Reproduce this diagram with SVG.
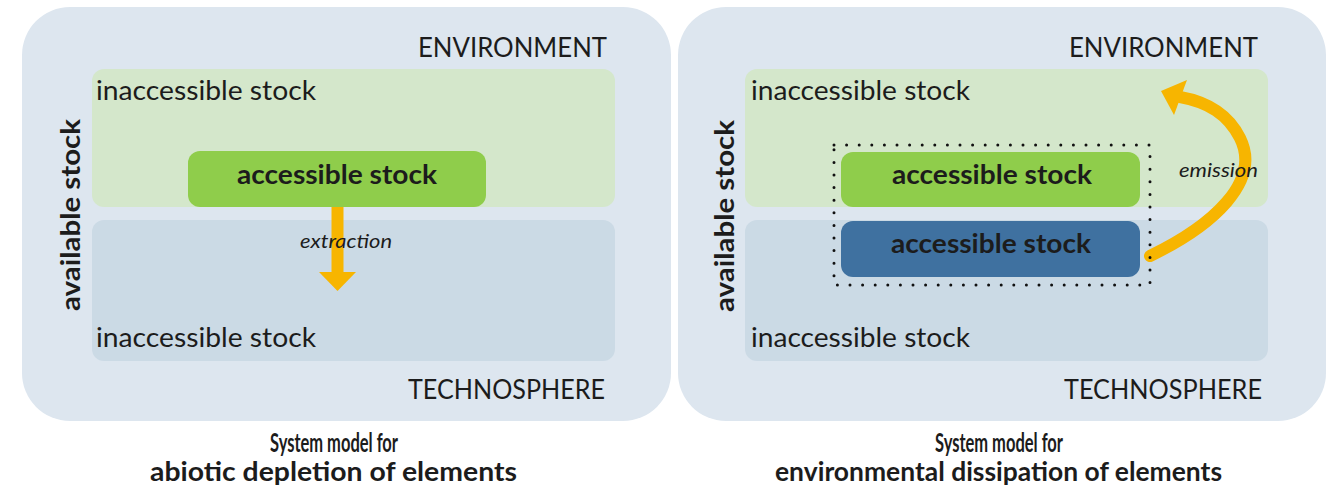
<svg xmlns="http://www.w3.org/2000/svg" width="1328" height="491" viewBox="0 0 1328 491">
  <style>
    text { font-family: Lato, "Liberation Sans", sans-serif; fill: #1c1c1c; }
    .panel { fill: #dde6ef; }
    .env { fill: #d4e7cb; }
    .tech { fill: #cbdae5; }
    .acc-green { fill: #8fcd4b; }
    .acc-blue { fill: #3f71a0; }
    .sphere { font-size: 26px; }
    .stock { font-size: 26px; }
    .acc { font-size: 26px; font-weight: bold; }
    .avail { font-size: 27px; font-weight: bold; }
    .flow { font-size: 19px; font-style: italic; }
    .title { font-size: 26px; font-weight: bold; }
    .dotted { fill: none; stroke: #111; stroke-width: 3; stroke-linecap: round; stroke-dasharray: 0 12.6; }
    .arrow { fill: none; stroke: #f7b500; stroke-width: 12; stroke-linecap: round; }
    .head { fill: #f7b500; }
  </style>

  <!-- left panel: abiotic depletion -->
  <g id="panel-depletion">
    <rect class="panel" x="22" y="7" width="649" height="414" rx="48"/>
    <text class="sphere" x="418" y="57" textLength="189" lengthAdjust="spacingAndGlyphs">ENVIRONMENT</text>
    <text class="sphere" x="408" y="399" textLength="197" lengthAdjust="spacingAndGlyphs">TECHNOSPHERE</text>
  </g>
  <g id="env-stock-left">
    <rect class="env" x="92" y="69" width="523" height="138" rx="12"/>
    <text class="stock" x="96" y="100" textLength="220" lengthAdjust="spacingAndGlyphs">inaccessible stock</text>
  </g>
  <g id="tech-stock-left">
    <rect class="tech" x="92" y="220" width="523" height="141" rx="12"/>
    <text class="stock" x="96" y="347" textLength="220" lengthAdjust="spacingAndGlyphs">inaccessible stock</text>
  </g>
  <g id="available-left">
    <text class="avail" transform="translate(80,215) rotate(-90)" x="-96" y="0" textLength="192" lengthAdjust="spacingAndGlyphs">available stock</text>
  </g>

  <!-- right panel: environmental dissipation -->
  <g id="panel-dissipation">
    <rect class="panel" x="678" y="7" width="648" height="414" rx="48"/>
    <text class="sphere" x="1069" y="57" textLength="189" lengthAdjust="spacingAndGlyphs">ENVIRONMENT</text>
    <text class="sphere" x="1064" y="399" textLength="198" lengthAdjust="spacingAndGlyphs">TECHNOSPHERE</text>
  </g>
  <g id="env-stock-right">
    <rect class="env" x="745" y="69" width="523" height="138" rx="12"/>
    <text class="stock" x="751" y="100" textLength="219" lengthAdjust="spacingAndGlyphs">inaccessible stock</text>
  </g>
  <g id="tech-stock-right">
    <rect class="tech" x="745" y="220" width="523" height="141" rx="12"/>
    <text class="stock" x="751" y="347" textLength="219" lengthAdjust="spacingAndGlyphs">inaccessible stock</text>
  </g>
  <g id="available-right">
    <text class="avail" transform="translate(734,216) rotate(-90)" x="-96" y="0" textLength="192" lengthAdjust="spacingAndGlyphs">available stock</text>
  </g>

  <!-- connectors -->
  <g id="connectors">
    <g id="extraction">
      <line class="arrow" x1="337.5" y1="205" x2="337.5" y2="274" stroke-width="11"/>
      <polygon class="head" points="319,272 356,272 337.5,291"/>
    </g>
    <g id="emission">
      <path class="arrow" d="M1150,256 C1212,226 1262,182 1240,138 C1228,114 1208,102 1180,97"/>
      <polygon class="head" points="1161,91 1187,80 1174,115"/>
    </g>
  </g>

  <!-- accessible stocks -->
  <g id="accessible-left">
    <rect class="acc-green" x="188" y="151" width="298" height="56" rx="12"/>
    <text class="acc" x="237" y="184" textLength="200" lengthAdjust="spacingAndGlyphs">accessible stock</text>
  </g>
  <g id="accessible-group-right">
    <rect class="dotted" x="834" y="145" width="316" height="140"/>
  </g>
  <g id="accessible-env-right">
    <rect class="acc-green" x="841" y="152" width="299" height="55" rx="12"/>
    <text class="acc" x="892" y="184" textLength="200" lengthAdjust="spacingAndGlyphs">accessible stock</text>
  </g>
  <g id="accessible-tech-right">
    <rect class="acc-blue" x="841" y="221" width="299" height="56" rx="12"/>
    <text class="acc" x="891" y="253" textLength="200" lengthAdjust="spacingAndGlyphs">accessible stock</text>
  </g>

  <!-- flow labels -->
  <g id="flow-labels">
    <text class="flow" x="300" y="248" textLength="92" lengthAdjust="spacingAndGlyphs">extraction</text>
    <text class="flow" x="1179" y="177" textLength="79" lengthAdjust="spacingAndGlyphs">emission</text>
  </g>

  <!-- captions -->
  <g id="captions">
    <text class="title" x="270" y="452" textLength="128" lengthAdjust="spacingAndGlyphs">System model for</text>
    <text class="title" x="150" y="481" textLength="367" lengthAdjust="spacingAndGlyphs">abiotic depletion of elements</text>
    <text class="title" x="935" y="452" textLength="128" lengthAdjust="spacingAndGlyphs">System model for</text>
    <text class="title" x="775" y="481" textLength="447" lengthAdjust="spacingAndGlyphs">environmental dissipation of elements</text>
  </g>
</svg>
